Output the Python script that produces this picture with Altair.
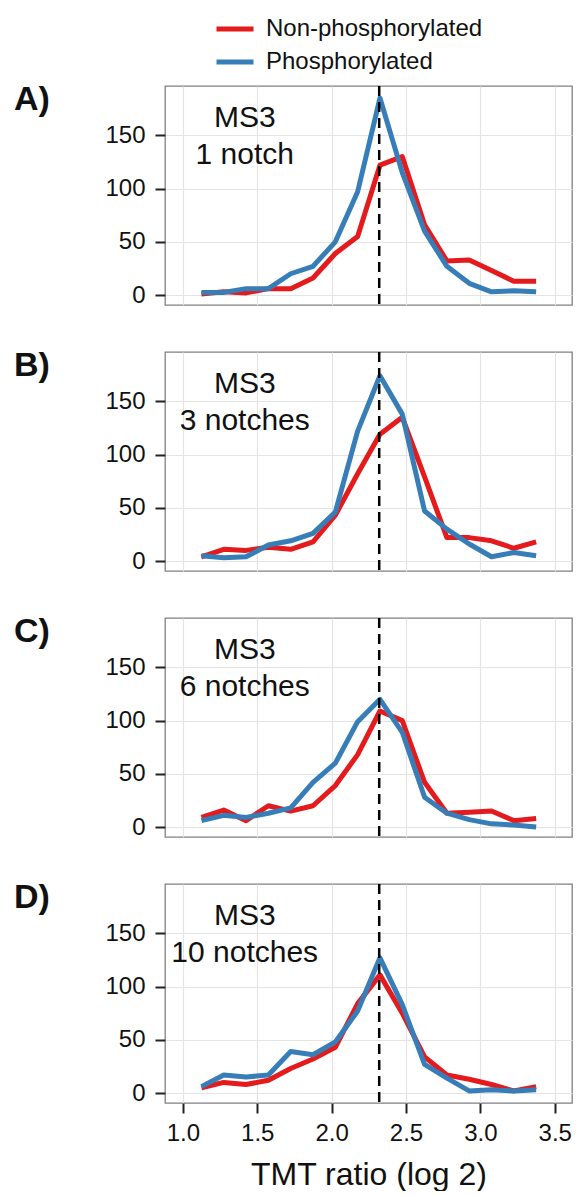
import altair as alt
import pandas as pd

# ---- data ----
x_vals = [1.125, 1.275, 1.425, 1.575, 1.725, 1.875, 2.025, 2.175,
          2.325, 2.475, 2.625, 2.775, 2.925, 3.075, 3.225, 3.375]
series_names = ["Non-phosphorylated", "Phosphorylated"]
series_colors = ["#E41A1C", "#377EB8"]
panel_labels = ["A)", "B)", "C)", "D)"]
notch_labels = ["1 notch", "3 notches", "6 notches", "10 notches"]

a_non = [1, 3, 2, 6, 6, 16, 39, 55, 122, 130, 66, 32, 33, 23, 13, 13]
a_pho = [2.5, 2.5, 6, 6, 20, 27, 50, 97, 185, 115, 60, 27, 11, 3, 4, 3]
b_non = [4, 11, 10, 13, 11, 18, 43, 82, 119, 135, 79, 22, 22, 19, 12, 18]
b_pho = [5, 3, 4, 15, 19, 26, 46, 122, 174, 138, 47, 30, 16, 4, 8, 5]
c_non = [9, 16, 6, 20, 15, 20, 39, 68, 109, 100, 42, 13, 14, 15, 6, 8]
c_pho = [6, 11, 9, 13, 18, 42, 60, 99, 120, 89, 28, 13, 7, 3, 2, 0]
d_non = [5, 10, 8, 12, 23, 32, 43, 84, 111, 75, 34, 17, 13, 8, 2, 6]
d_pho = [6, 17, 15, 17, 39, 36, 48, 77, 127, 83, 27, 14, 2, 3, 2, 3]

panel_series = [(a_non, a_pho), (b_non, b_pho), (c_non, c_pho), (d_non, d_pho)]
ref_line = [2.32]           # log2(5)
x_ticks = [1.0, 1.5, 2.0, 2.5, 3.0, 3.5]
y_ticks = [0, 50, 100, 150]
text_pos = (1.416, 158)

FONT = "Liberation Sans"
x_domain = [0.88, 3.616]
y_domain = [-9.35, 196.35]

color_scale = alt.Scale(domain=series_names, range=series_colors)


def make_panel(i):
    non, pho = panel_series[i]
    df = pd.DataFrame({
        "x": x_vals * 2,
        "y": non + pho,
        "series": [series_names[0]] * len(x_vals) + [series_names[1]] * len(x_vals),
    })
    bottom = i == 3
    if bottom:
        xaxis = alt.Axis(values=x_ticks, format=".1f", title="TMT ratio (log 2)",
                         labelFontSize=24, titleFontSize=32, titleFontWeight="normal",
                         tickSize=10, tickWidth=2, tickColor="#222222",
                         labelPadding=8, titlePadding=14, domain=False,
                         labelColor="#111111", titleColor="#111111")
    else:
        xaxis = alt.Axis(values=x_ticks, labels=False, ticks=False, title=None, domain=False)
    yaxis = alt.Axis(values=y_ticks, title=None, labelFontSize=24, tickSize=10,
                     tickWidth=2, tickColor="#222222", labelPadding=10, domain=False,
                     labelColor="#111111")
    xs = alt.X("x:Q", scale=alt.Scale(domain=x_domain, nice=False, zero=False), axis=xaxis)
    ys = alt.Y("y:Q", scale=alt.Scale(domain=y_domain, nice=False, zero=False), axis=yaxis)

    lines = alt.Chart(df).mark_line(strokeWidth=5, strokeJoin="round").encode(
        x=xs, y=ys,
        color=alt.Color("series:N", scale=color_scale,
                        legend=alt.Legend(title=None, orient="none", legendX=49, legendY=-78,
                                          symbolType="stroke", symbolSize=1369,
                                          symbolStrokeWidth=5, labelFontSize=24,
                                          labelOffset=10, rowPadding=-7, labelLimit=0,
                                          labelColor="#111111")),
    )
    rule = alt.Chart(pd.DataFrame({"x": ref_line})).mark_rule(
        color="black", strokeWidth=2.5, strokeDash=[10, 6]).encode(x=alt.X("x:Q"))
    txt = alt.Chart(pd.DataFrame({"x": [text_pos[0]], "y": [text_pos[1]],
                                  "t": ["MS3\n" + notch_labels[i]]})).mark_text(
        fontSize=30, lineBreak="\n", lineHeight=37, align="center",
        baseline="alphabetic", color="#111111").encode(x="x:Q", y="y:Q", text="t:N")
    lab = alt.Chart(pd.DataFrame({"lab": [panel_labels[i]]})).mark_text(
        fontSize=34, fontWeight="bold", align="left", baseline="alphabetic",
        color="#111111").encode(text="lab:N", x=alt.value(-151), y=alt.value(24))
    return alt.layer(lines, rule, txt, lab).properties(width=407, height=219)


chart = alt.vconcat(*[make_panel(i) for i in range(4)], spacing=47, bounds="flush").resolve_scale(
    color="shared"
).configure(font=FONT).configure_view(
    stroke="#808080", strokeWidth=1.3
).configure_axis(
    gridColor="#e4e4e4", gridWidth=1.2, labelFont=FONT, titleFont=FONT
).configure_legend(
    labelFont=FONT
).properties(padding={"left": 5, "top": 0, "right": 0, "bottom": 0})

chart.save("out.html", embed_options={"renderer": "svg", "actions": False})
